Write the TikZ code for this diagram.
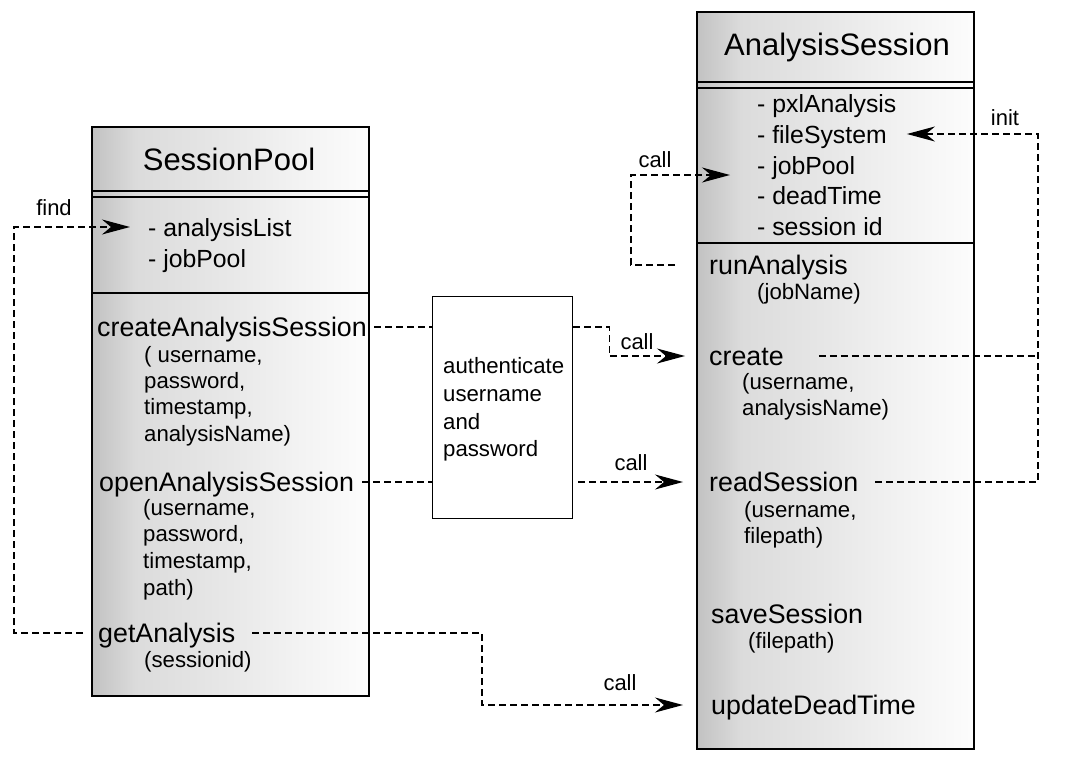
\documentclass[tikz,border=0pt]{standalone}
\usepackage{fontspec}
\setmainfont{Liberation Sans}
\usetikzlibrary{arrows.meta}
\pgfdeclarehorizontalshading{boxshade}{100bp}{color(0bp)=(black!24); color(25bp)=(black!24); color(33bp)=(black!14); color(50bp)=(black!9); color(62bp)=(black!5); color(75bp)=(black!1); color(100bp)=(black!1)}
\tikzset{
  umlbox/.style={draw=black, line width=1.6pt, rectangle, inner sep=0pt, anchor=north west,
    shading=boxshade},
  plainbox/.style={draw=black, line width=1.4pt, rectangle, inner sep=0pt, anchor=north west, fill=white},
  sepline/.style={line width=1.4pt},
  titletxt/.style={inner sep=0pt, anchor=center, text height=22.3pt, text depth=0pt, font=\fontsize{31}{36}\selectfont},
  attrtxt/.style={inner sep=0pt, anchor=west, text height=18pt, text depth=0pt, font=\fontsize{24.8}{28}\selectfont},
  methtxt/.style={inner sep=0pt, anchor=west, text height=19.4pt, text depth=0pt, font=\fontsize{26.8}{30}\selectfont},
  paramtxt/.style={inner sep=0pt, anchor=west, text height=16pt, text depth=0pt, font=\fontsize{22.2}{26}\selectfont},
  lbltxt/.style={inner sep=0pt, anchor=center, text height=15.8pt, text depth=0pt, font=\fontsize{22}{24}\selectfont},
  dashline/.style={dashed, dash pattern=on 7pt off 4pt, line width=1.4pt},
  conn/.style={dashline, -{Stealth[length=28pt, width=15pt, inset=9pt]}},
}
\begin{document}
\begin{tikzpicture}[x=1pt,y=-1pt]
\useasboundingbox (0,0) rectangle (1066,776);

% ---------- SessionPool ----------
\node[umlbox, minimum width=277, minimum height=569] (sp) at (91,126) {};
\draw[sepline] (91,191) -- (368,191);
\draw[sepline] (91,197) -- (368,197);
\draw[sepline] (91,293) -- (368,293);
\node[titletxt] (sptitle) at (229,159) {SessionPool};
\node[attrtxt] (al) at (148,227) {- analysisList};
\node[attrtxt] (jp1) at (148,258) {- jobPool};
\node[methtxt] (cas) at (97,327) {createAnalysisSession};
\node[paramtxt] (casp1) at (144,354) {( username,};
\node[paramtxt] (casp2) at (144,380) {password,};
\node[paramtxt] (casp3) at (144,406) {timestamp,};
\node[paramtxt] (casp4) at (144,433) {analysisName)};
\node[methtxt] (oas) at (99,482) {openAnalysisSession};
\node[paramtxt] (oasp1) at (143,507) {(username,};
\node[paramtxt] (oasp2) at (143,533) {password,};
\node[paramtxt] (oasp3) at (143,560) {timestamp,};
\node[paramtxt] (oasp4) at (143,587) {path)};
\node[methtxt] (ga) at (98,633) {getAnalysis};
\node[paramtxt] (gap) at (144,659) {(sessionid)};

% ---------- authenticate ----------
\node[plainbox, minimum width=140, minimum height=222] (auth) at (432,296) {};
\node[paramtxt] (au1) at (443,365) {authenticate};
\node[paramtxt] (au2) at (443,393) {username};
\node[paramtxt] (au3) at (443,421) {and};
\node[paramtxt] (au4) at (443,448) {password};

% ---------- AnalysisSession ----------
\node[umlbox, minimum width=277, minimum height=737] (as) at (696,11) {};
\draw[sepline] (696,82) -- (973,82);
\draw[sepline] (696,88) -- (973,88);
\draw[sepline] (696,243) -- (973,243);
\node[titletxt] (astitle) at (837,44) {AnalysisSession};
\node[attrtxt] (pa) at (757,104) {- pxlAnalysis};
\node[attrtxt] (fs) at (757,134) {- fileSystem};
\node[attrtxt] (jp2) at (757,165) {- jobPool};
\node[attrtxt] (dt) at (757,195) {- deadTime};
\node[attrtxt] (sid) at (757,226) {- session id};
\node[methtxt] (ra) at (709,265) {runAnalysis};
\node[paramtxt] (rap) at (757,291) {(jobName)};
\node[methtxt] (cr) at (709,356) {create};
\node[paramtxt] (crp1) at (742,381) {(username,};
\node[paramtxt] (crp2) at (742,407) {analysisName)};
\node[methtxt] (rs) at (709,482) {readSession};
\node[paramtxt] (rsp1) at (744,509) {(username,};
\node[paramtxt] (rsp2) at (744,535) {filepath)};
\node[methtxt] (ss) at (711,614) {saveSession};
\node[paramtxt] (ssp) at (748,640) {(filepath)};
\node[methtxt] (udt) at (711,705) {updateDeadTime};

% ---------- connector labels ----------
\node[lbltxt] (lfind) at (54,208) {find};
\node[lbltxt] (lcall1) at (637,342) {call};
\node[lbltxt] (lcall2) at (631,463) {call};
\node[lbltxt] (lcall3) at (620,683) {call};
\node[lbltxt] (lcall4) at (655,160) {call};
\node[lbltxt] (linit) at (1005,118) {init};

% ---------- helper coordinates ----------
\coordinate (findx) at (14,0);
\coordinate (gax) at (482,0);
\coordinate (selfx) at (631,0);
\coordinate (selftip) at (730,175);
\coordinate (initx) at (1038,0);

% ---------- connectors ----------
% find
\draw[conn] ([xshift=-15pt]ga.west) -| (findx |- al.west) -- ([xshift=-18pt]al.west);
% createAnalysisSession -> authenticate -> create
\draw[dashline] ([xshift=7pt]cas.east) -- (auth.west |- cas.east);
\draw[conn] (auth.east |- cas.east) -- ++(36,0) |- ([xshift=-24pt]cr.west);
% openAnalysisSession -> authenticate -> readSession
\draw[dashline] ([xshift=8pt]oas.east) -- (auth.west |- oas.east);
\draw[conn] ([xshift=5pt]auth.east |- rs.west) -- ([xshift=-26pt]rs.west);
% getAnalysis -> updateDeadTime
\draw[conn] ([xshift=17pt]ga.east) -| (gax |- udt.west) -- ([xshift=-28pt]udt.west);
% self call
\draw[conn] ([xshift=-34pt]ra.west) -| (selfx |- selftip) -- (selftip);
% init
\draw[dashline] ([xshift=35pt]cr.east) -- (initx |- cr.east);
\draw[conn] ([xshift=17pt]rs.east) -| (initx |- fs.east) -- ([xshift=20pt]fs.east);
\end{tikzpicture}
\end{document}
